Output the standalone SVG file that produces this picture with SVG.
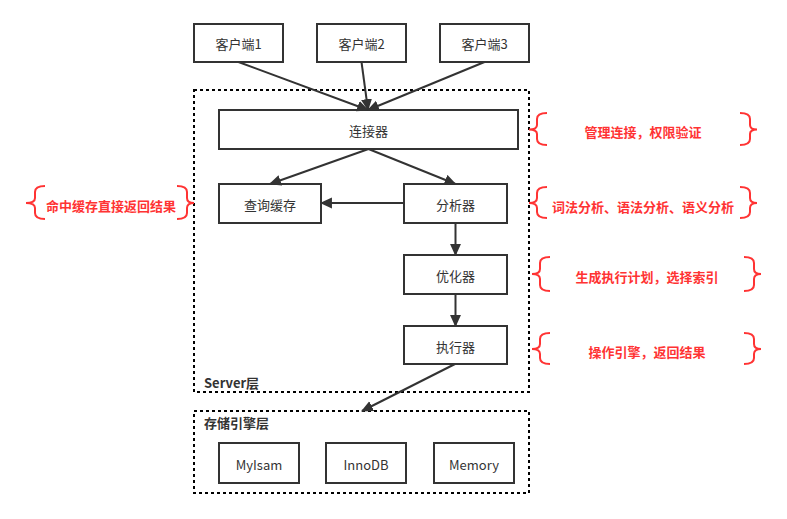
<svg xmlns="http://www.w3.org/2000/svg" width="787" height="519" viewBox="0 0 787 519">
<style>
.box{fill:#fff;stroke:#333;stroke-width:2}
.dash{fill:none;stroke:#000;stroke-width:2;stroke-dasharray:3 3}
.t{font-family:"Noto Sans CJK SC","Microsoft YaHei",sans-serif;font-size:13px;fill:#333;text-anchor:middle;dominant-baseline:central}
.b{font-family:"Noto Sans CJK SC",sans-serif;font-size:13px;font-weight:bold;fill:#333}
.r{font-family:"Noto Sans CJK SC",sans-serif;font-size:13px;font-weight:bold;fill:#ff3333;text-anchor:middle;dominant-baseline:central}
.br{fill:none;stroke:#ff3333;stroke-width:2}
.c{stroke:#333;stroke-width:2;fill:none;marker-end:url(#ah)}
</style>
<defs>
<marker id="ah" markerWidth="12" markerHeight="12" refX="10" refY="5" orient="auto" markerUnits="userSpaceOnUse" viewBox="0 0 11 10">
<path d="M0,0 L11,5 L0,10 Z" fill="#333"/>
</marker>
</defs>
<rect width="787" height="519" fill="#fff"/>
<g id="server-layer"><rect class="dash" x="194" y="90" width="335" height="302"/><text class="b" x="204" y="388">Server层</text></g>
<g id="storage-layer"><rect class="dash" x="194" y="411" width="335" height="82"/><text class="b" x="204" y="422" dominant-baseline="central">存储引擎层</text></g>
<g id="client1"><rect class="box" x="194" y="24" width="89" height="38"/><text class="t" x="238.5" y="43">客户端1</text></g>
<g id="client2"><rect class="box" x="317" y="24" width="89" height="38"/><text class="t" x="361.5" y="43">客户端2</text></g>
<g id="client3"><rect class="box" x="440" y="24" width="89" height="38"/><text class="t" x="484.5" y="43">客户端3</text></g>
<g id="connector"><rect class="box" x="219" y="110" width="299" height="39"/><text class="t" x="368.5" y="130">连接器</text></g>
<g id="cache"><rect class="box" x="219" y="184" width="102" height="39"/><text class="t" x="270" y="204">查询缓存</text></g>
<g id="analyzer"><rect class="box" x="404" y="184" width="103" height="39"/><text class="t" x="455.5" y="204">分析器</text></g>
<g id="optimizer"><rect class="box" x="404" y="255" width="103" height="39"/><text class="t" x="455.5" y="275">优化器</text></g>
<g id="executor"><rect class="box" x="404" y="326" width="103" height="38"/><text class="t" x="455.5" y="346">执行器</text></g>
<g id="myisam"><rect class="box" x="219" y="443" width="80" height="40"/><text class="t" x="259" y="464">MyIsam</text></g>
<g id="innodb"><rect class="box" x="326" y="443" width="80" height="40"/><text class="t" x="366" y="464">InnoDB</text></g>
<g id="memory"><rect class="box" x="434" y="443" width="80" height="40"/><text class="t" x="474" y="464">Memory</text></g>
<g id="connectors">
<path class="c" d="M238.5,62 L368,110"/>
<path class="c" d="M361.5,62 L368,110"/>
<path class="c" d="M484.5,62 L368,110"/>
<path class="c" d="M368.5,149 L270,184"/>
<path class="c" d="M368.5,149 L455.5,184"/>
<path class="c" d="M404,203 L321,203"/>
<path class="c" d="M455.5,223 L455.5,255"/>
<path class="c" d="M455.5,294 L455.5,326"/>
<path class="c" d="M455,364 L362,411"/>
</g>
<g id="note-connector">
<path class="br" d="M547,113 Q537,113 537,119 L537,125 Q537,129.5 529,129.5 Q537,129.5 537,134 L537,139 Q537,145 547,145"/>
<path class="br" d="M740,113 Q750,113 750,119 L750,125 Q750,129.5 757,129.5 Q750,129.5 750,134 L750,139 Q750,145 740,145"/>
<text class="r" x="643" y="131">管理连接，权限验证</text>
</g>
<g id="note-analyzer">
<path class="br" d="M547,187 Q537,187 537,193 L537,198 Q537,203 529,203 Q537,203 537,208 L537,212 Q537,218 547,218"/>
<path class="br" d="M740,187 Q750,187 750,193 L750,198 Q750,203 757,203 Q750,203 750,208 L750,212 Q750,218 740,218"/>
<text class="r" x="643" y="206">词法分析、语法分析、语义分析</text>
</g>
<g id="note-optimizer">
<path class="br" d="M550,257 Q540,257 540,263 L540,269 Q540,274 532,274 Q540,274 540,279 L540,285 Q540,291 550,291"/>
<path class="br" d="M744,257 Q754,257 754,263 L754,269 Q754,274 761,274 Q754,274 754,279 L754,285 Q754,291 744,291"/>
<text class="r" x="647" y="276">生成执行计划，选择索引</text>
</g>
<g id="note-executor">
<path class="br" d="M550,333 Q540,333 540,339 L540,344 Q540,349 532,349 Q540,349 540,354 L540,358 Q540,364 550,364"/>
<path class="br" d="M744,333 Q754,333 754,339 L754,344 Q754,349 761,349 Q754,349 754,354 L754,358 Q754,364 744,364"/>
<text class="r" x="647" y="351">操作引擎，返回结果</text>
</g>
<g id="note-cache">
<path class="br" d="M45,186 Q35,186 35,192 L35,198 Q35,203 26,203 Q35,203 35,208 L35,213 Q35,219 45,219"/>
<path class="br" d="M177,186 Q187,186 187,192 L187,198 Q187,203 194,203 Q187,203 187,208 L187,213 Q187,219 177,219"/>
<text class="r" x="111" y="205">命中缓存直接返回结果</text>
</g>
</svg>
